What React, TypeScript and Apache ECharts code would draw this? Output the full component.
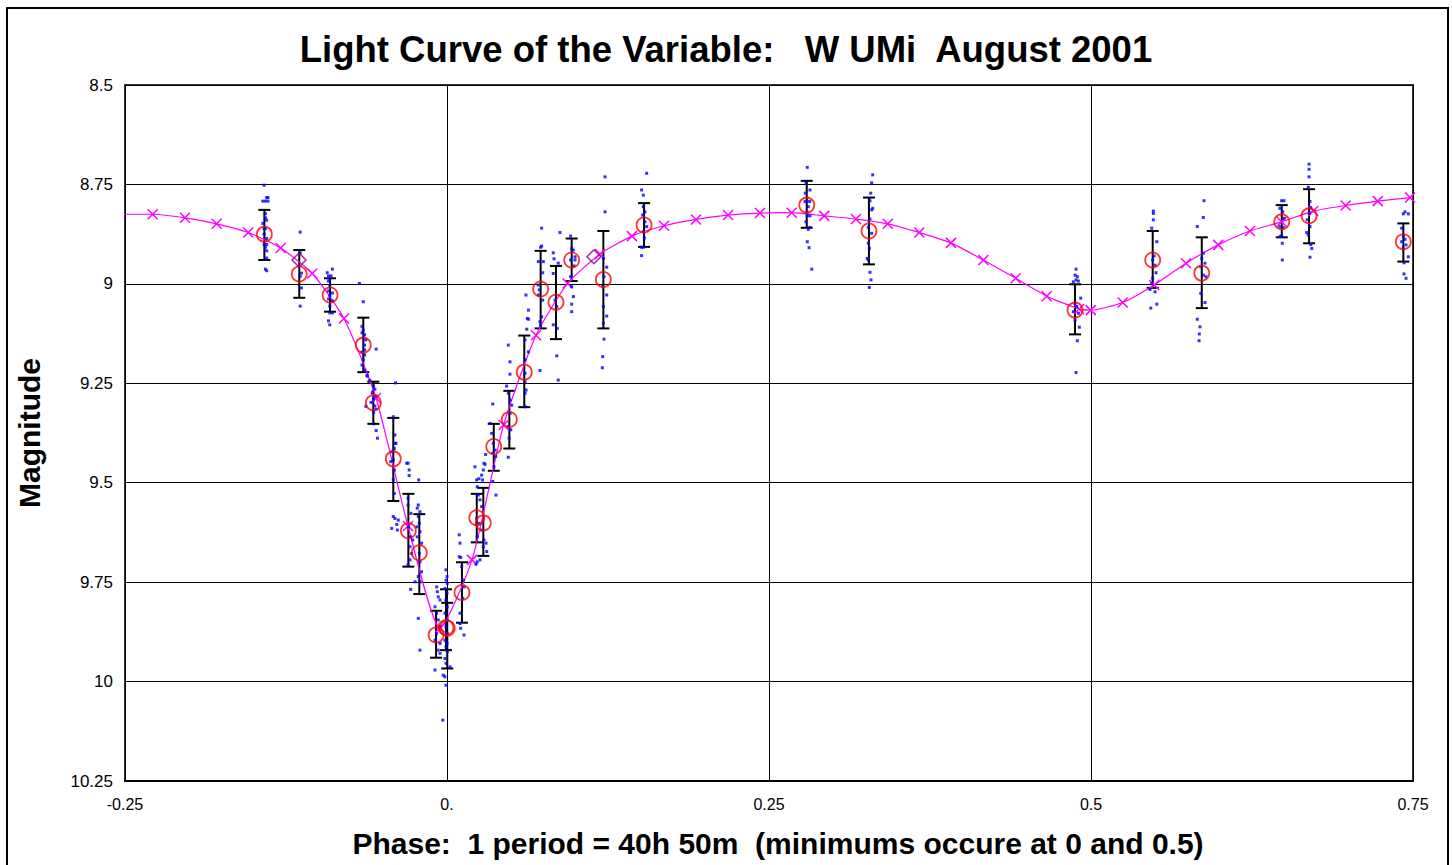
import React, { useEffect, useRef } from 'react';
import * as echarts from 'echarts';

const FONT = '"Liberation Sans", Arial, Helvetica, sans-serif';

const titleText = 'Light Curve of the Variable:   W UMi  August 2001';
const xTitleText = 'Phase:  1 period = 40h 50m  (minimums occure at 0 and 0.5)';
const yTitleText = 'Magnitude';

// model light curve (magenta line with x markers): [phase, magnitude]
const modelCurve: number[][] = [
  [-0.2535, 8.825], [-0.2285, 8.825], [-0.2034, 8.834], [-0.1788, 8.849], [-0.1543, 8.871],
  [-0.1291, 8.91], [-0.1046, 8.974], [-0.08, 9.087], [-0.0551, 9.287], [-0.0303, 9.609],
  [-0.0054, 9.865], [0.0194, 9.694], [0.0439, 9.355], [0.0691, 9.129], [0.0936, 8.999],
  [0.1188, 8.925], [0.1436, 8.88], [0.1685, 8.854], [0.1933, 8.838], [0.2182, 8.827],
  [0.243, 8.822], [0.2676, 8.821], [0.2929, 8.829], [0.3175, 8.837], [0.3422, 8.849],
  [0.3667, 8.871], [0.3913, 8.897], [0.4164, 8.94], [0.4415, 8.986], [0.4656, 9.031],
  [0.4907, 9.063], [0.4998, 9.066], [0.5246, 9.047], [0.5491, 9.003], [0.5738, 8.948],
  [0.5988, 8.902], [0.6234, 8.867], [0.648, 8.844], [0.6726, 8.817], [0.6977, 8.803],
  [0.7226, 8.792], [0.7477, 8.783],
];

// binned means (red circles): [phase, magnitude]
const meanPoints: number[][] = [
  [-0.1418, 8.875], [-0.1147, 8.975], [-0.0908, 9.028], [-0.065, 9.154], [-0.0572, 9.299],
  [-0.0417, 9.44], [-0.03, 9.621], [-0.0215, 9.676], [-0.0085, 9.883], [-0.0008, 9.864],
  [0.0002, 9.866], [0.0116, 9.776], [0.0231, 9.588], [0.0282, 9.601], [0.0363, 9.409],
  [0.0484, 9.341], [0.06, 9.222], [0.0727, 9.013], [0.0846, 9.046], [0.0968, 8.94],
  [0.1214, 8.989], [0.153, 8.852], [0.2793, 8.802], [0.3276, 8.867], [0.4876, 9.066],
  [0.5479, 8.94], [0.586, 8.973], [0.6481, 8.844], [0.6693, 8.829], [0.7425, 8.894],
];

// error bars: [phase, upper (brighter) mag, lower (fainter) mag]
const errorBars: number[][] = [
  [-0.1418, 8.814, 8.94], [-0.1147, 8.915, 9.035], [-0.0908, 8.986, 9.07], [-0.065, 9.085, 9.222],
  [-0.0572, 9.246, 9.352], [-0.0417, 9.337, 9.546], [-0.03, 9.528, 9.711], [-0.0215, 9.579, 9.78],
  [-0.0085, 9.822, 9.94], [-0.0008, 9.768, 9.921], [0.0002, 9.802, 9.967], [0.0116, 9.7, 9.852],
  [0.0231, 9.528, 9.65], [0.0282, 9.513, 9.684], [0.0363, 9.352, 9.47], [0.0484, 9.269, 9.414],
  [0.06, 9.13, 9.31], [0.0727, 8.917, 9.112], [0.0846, 8.955, 9.139], [0.0968, 8.886, 8.993],
  [0.1214, 8.867, 9.112], [0.153, 8.797, 8.907], [0.2793, 8.741, 8.859], [0.3276, 8.783, 8.951],
  [0.4876, 9.001, 9.127], [0.5479, 8.867, 9.01], [0.586, 8.883, 9.061], [0.6481, 8.802, 8.883],
  [0.6693, 8.762, 8.898], [0.7425, 8.848, 8.944],
];

// purple diamonds
const diamondPoints: number[][] = [
  [-0.1149, 8.94], [0.1141, 8.932],
];

// individual observations (blue dots): [phase, magnitude]
const observations: number[][] = [
  [-0.142, 8.752], [-0.14, 8.783], [-0.139, 8.783], [-0.143, 8.792], [-0.141, 8.792], [-0.139, 8.792],
  [-0.141, 8.823], [-0.141, 8.834], [-0.14, 8.84], [-0.143, 8.848], [-0.142, 8.861], [-0.141, 8.861],
  [-0.142, 8.875], [-0.14, 8.886], [-0.142, 8.901], [-0.14, 8.901], [-0.141, 8.908], [-0.14, 8.917],
  [-0.14, 8.935], [-0.141, 8.963], [-0.14, 8.967],
  [-0.114, 8.87], [-0.114, 8.922], [-0.113, 8.973], [-0.114, 8.981], [-0.113, 9.01], [-0.114, 9.056],
  [-0.089, 8.963], [-0.093, 8.972], [-0.092, 8.98], [-0.09, 8.98], [-0.091, 8.986], [-0.092, 8.993],
  [-0.091, 9.005], [-0.092, 9.018], [-0.089, 9.023], [-0.091, 9.03], [-0.092, 9.038], [-0.089, 9.043],
  [-0.091, 9.056], [-0.091, 9.073], [-0.089, 9.073], [-0.092, 9.093], [-0.091, 9.103],
  [-0.068, 8.999], [-0.065, 9.045], [-0.066, 9.107], [-0.065, 9.116], [-0.066, 9.123], [-0.064, 9.128],
  [-0.065, 9.136], [-0.063, 9.141], [-0.064, 9.154], [-0.064, 9.166], [-0.055, 9.164], [-0.066, 9.172],
  [-0.064, 9.179], [-0.065, 9.191], [-0.066, 9.204], [-0.064, 9.217], [-0.062, 9.23],
  [-0.062, 9.232], [-0.06, 9.242], [-0.057, 9.257], [-0.056, 9.265], [-0.058, 9.273], [-0.055, 9.282],
  [-0.057, 9.29], [-0.059, 9.298], [-0.056, 9.307], [-0.063, 9.308], [-0.055, 9.315], [-0.057, 9.323],
  [-0.057, 9.352], [-0.055, 9.369], [-0.054, 9.388], [-0.04, 9.249],
  [-0.0417, 9.334], [-0.0404, 9.38], [-0.0396, 9.401], [-0.0404, 9.401], [-0.0409, 9.414], [-0.0427, 9.422],
  [-0.0417, 9.443], [-0.0437, 9.447], [-0.0409, 9.468], [-0.0417, 9.493], [-0.0409, 9.527], [-0.0417, 9.585],
  [-0.0404, 9.59], [-0.0378, 9.594], [-0.039, 9.605], [-0.0429, 9.615], [-0.0385, 9.619],
  [-0.0313, 9.451], [-0.0302, 9.451], [-0.0294, 9.468], [-0.0294, 9.482], [-0.022, 9.493],
  [-0.0303, 9.539], [-0.0303, 9.556], [-0.028, 9.577], [-0.0298, 9.611], [-0.0282, 9.636], [-0.0266, 9.644],
  [-0.0287, 9.661], [-0.0274, 9.678], [-0.0287, 9.694], [-0.0303, 9.707],
  [-0.0223, 9.556], [-0.0231, 9.564], [-0.021, 9.573], [-0.0223, 9.585], [-0.0215, 9.602], [-0.0233, 9.611],
  [-0.021, 9.623], [-0.0231, 9.636], [-0.0197, 9.652], [-0.0215, 9.678], [-0.021, 9.699], [-0.0197, 9.724],
  [-0.0223, 9.736], [-0.021, 9.749], [-0.0282, 9.768], [-0.0248, 9.749], [-0.0223, 9.841], [-0.021, 9.921],
  [-0.008, 9.762], [-0.0075, 9.774], [-0.0068, 9.787], [-0.0054, 9.795], [-0.0093, 9.812], [-0.008, 9.828],
  [-0.0068, 9.845], [-0.0054, 9.862], [-0.008, 9.879], [-0.0093, 9.896], [-0.0054, 9.904], [-0.0068, 9.921],
  [-0.0054, 9.929], [-0.0093, 9.971],
  [-0.0008, 9.719], [0.0, 9.736], [-0.0008, 9.745], [0.0002, 9.753], [-0.0016, 9.766], [0.0, 9.778],
  [-0.0008, 9.795], [0.0002, 9.812], [-0.0016, 9.828], [0.0, 9.845], [-0.0008, 9.862], [0.0002, 9.879],
  [-0.0016, 9.896], [0.0, 9.904], [-0.0008, 9.912], [0.0002, 9.925], [-0.0016, 9.942], [-0.0008, 9.954],
  [-0.0029, 9.984], [-0.0016, 9.988], [-0.0008, 10.009], [-0.0033, 10.097], [0.0023, 9.963],
  [0.0095, 9.631], [0.0101, 9.652], [0.0095, 9.686], [0.0106, 9.688], [0.0114, 9.711], [0.0127, 9.745],
  [0.0132, 9.762], [0.0122, 9.791], [0.0101, 9.828], [0.0101, 9.854], [0.0132, 9.883], [0.0106, 9.866],
  [0.0217, 9.46], [0.023, 9.493], [0.0235, 9.51], [0.0243, 9.531], [0.0256, 9.543], [0.0269, 9.56],
  [0.023, 9.59], [0.025, 9.602], [0.0269, 9.619], [0.0235, 9.636], [0.0287, 9.644], [0.0303, 9.652],
  [0.0282, 9.661], [0.0308, 9.673], [0.0256, 9.694], [0.0235, 9.699], [0.0225, 9.705], [0.0276, 9.493],
  [0.0269, 9.481], [0.0248, 9.49], [0.0282, 9.468], [0.0295, 9.454], [0.03, 9.429], [0.0287, 9.451],
  [0.0355, 9.302], [0.0347, 9.376], [0.036, 9.401], [0.0373, 9.418], [0.0355, 9.426], [0.0378, 9.434],
  [0.0365, 9.46], [0.0355, 9.497], [0.038, 9.531], [0.0334, 9.351],
  [0.0463, 9.257], [0.0476, 9.275], [0.0489, 9.292], [0.0502, 9.305], [0.0489, 9.326], [0.0476, 9.359],
  [0.0495, 9.367], [0.0482, 9.388], [0.0476, 9.436],
  [0.0476, 9.154], [0.0489, 9.196], [0.0489, 9.227], [0.0606, 9.141], [0.0632, 9.171], [0.0606, 9.191],
  [0.0606, 9.225], [0.0606, 9.246], [0.0614, 9.267], [0.0606, 9.275], [0.0606, 9.309], [0.0619, 9.114],
  [0.0632, 9.089], [0.0632, 9.066],
  [0.0735, 8.86], [0.0727, 8.908], [0.0735, 8.905], [0.0709, 8.944], [0.0748, 8.944], [0.0743, 8.972],
  [0.0709, 9.003], [0.0717, 9.015], [0.0709, 9.028], [0.0743, 9.041], [0.0735, 9.083], [0.0722, 9.095],
  [0.0727, 9.105], [0.0722, 9.218], [0.0613, 9.028], [0.0624, 9.087],
  [0.0825, 8.922], [0.0831, 8.937], [0.0864, 8.948], [0.0825, 8.974], [0.0839, 9.041], [0.0852, 9.057],
  [0.0825, 9.103], [0.0856, 9.112], [0.0852, 9.181], [0.0864, 9.242], [0.0877, 8.871],
  [0.096, 8.88], [0.0968, 8.911], [0.0981, 8.915], [0.0994, 8.932], [0.096, 8.94], [0.0994, 8.94],
  [0.0986, 8.955], [0.096, 8.982], [0.0968, 9.007], [0.0981, 9.032], [0.0968, 9.051], [0.0968, 9.07],
  [0.1227, 8.731], [0.1227, 8.819], [0.1214, 8.936], [0.124, 8.958], [0.1219, 8.982], [0.1209, 9.007],
  [0.124, 9.028], [0.1214, 9.057], [0.124, 9.081], [0.1214, 9.099], [0.1219, 9.139], [0.1209, 9.183],
  [0.1206, 9.211],
  [0.155, 8.722], [0.1511, 8.764], [0.1524, 8.777], [0.1524, 8.806], [0.1537, 8.819], [0.1519, 8.827],
  [0.1537, 8.844], [0.155, 8.856], [0.1524, 8.869], [0.1532, 8.885], [0.1511, 8.908], [0.1524, 8.908],
  [0.1511, 8.929],
  [0.2797, 8.707], [0.2787, 8.746], [0.2818, 8.764], [0.2782, 8.772], [0.2795, 8.792], [0.2816, 8.793],
  [0.278, 8.793], [0.2805, 8.806], [0.2795, 8.819], [0.2818, 8.829], [0.2797, 8.829], [0.2787, 8.844],
  [0.2818, 8.858], [0.2805, 8.863], [0.2797, 8.894], [0.2811, 8.909], [0.2832, 8.963],
  [0.3305, 8.726], [0.3297, 8.746], [0.329, 8.772], [0.3284, 8.791], [0.3305, 8.81], [0.3297, 8.814],
  [0.3284, 8.837], [0.3271, 8.858], [0.3297, 8.873], [0.3271, 8.898], [0.3279, 8.911], [0.3263, 8.936],
  [0.3271, 8.94], [0.3284, 8.971], [0.3292, 8.99], [0.3279, 9.009],
  [0.4884, 8.963], [0.4876, 8.978], [0.4894, 8.982], [0.4884, 8.99], [0.4863, 8.995], [0.4902, 8.993],
  [0.492, 9.036], [0.4876, 9.049], [0.4889, 9.057], [0.4863, 9.07], [0.4902, 9.074], [0.4876, 9.091],
  [0.4909, 9.109], [0.4894, 9.143], [0.4884, 9.223],
  [0.5484, 8.817], [0.5484, 8.823], [0.5484, 8.839], [0.5471, 8.86], [0.5511, 8.894], [0.549, 8.93],
  [0.5479, 8.94], [0.5497, 8.953], [0.5505, 8.972], [0.5479, 8.986], [0.5471, 8.999], [0.5458, 9.014],
  [0.5497, 9.02], [0.5511, 9.051], [0.5464, 9.061],
  [0.5877, 8.791], [0.5872, 8.833], [0.5825, 8.856], [0.5872, 8.923], [0.586, 8.936], [0.5885, 8.948],
  [0.5852, 8.957], [0.5872, 8.978], [0.5893, 8.982], [0.5852, 9.024], [0.5885, 9.047], [0.5825, 9.089],
  [0.5846, 9.108], [0.5841, 9.126], [0.5839, 9.143],
  [0.648, 8.791], [0.6498, 8.791], [0.6467, 8.81], [0.6488, 8.819], [0.6498, 8.835], [0.6467, 8.856],
  [0.6493, 8.858], [0.648, 8.88], [0.6467, 8.881], [0.6485, 8.898], [0.6485, 8.94],
  [0.6693, 8.699], [0.6693, 8.712], [0.6693, 8.731], [0.6687, 8.757], [0.67, 8.793], [0.6706, 8.808],
  [0.6695, 8.823], [0.6679, 8.839], [0.67, 8.856], [0.6675, 8.871], [0.6687, 8.877], [0.6706, 8.901],
  [0.6714, 8.911], [0.67, 8.933],
  [0.7438, 8.819], [0.7464, 8.824], [0.7425, 8.824], [0.7412, 8.86], [0.7425, 8.88], [0.7438, 8.888],
  [0.7412, 8.894], [0.7446, 8.902], [0.7425, 8.911], [0.7464, 8.932], [0.743, 8.947], [0.743, 8.975],
  [0.7446, 8.986],
];

export default function App() {
  const ref = useRef<HTMLDivElement>(null);

  useEffect(() => {
    document.body.style.margin = '0';
    const chart = echarts.init(ref.current as HTMLDivElement, null, { renderer: 'svg' });

    const errorRender = (params: any, api: any) => {
      const x = api.value(0);
      const p1 = api.coord([x, api.value(1)]);
      const p2 = api.coord([x, api.value(2)]);
      const hw = 6;
      const style = { stroke: '#000000', lineWidth: 2 };
      return {
        type: 'group',
        children: [
          { type: 'line', shape: { x1: p1[0], y1: p1[1], x2: p2[0], y2: p2[1] }, style },
          { type: 'line', shape: { x1: p1[0] - hw, y1: p1[1], x2: p1[0] + hw, y2: p1[1] }, style },
          { type: 'line', shape: { x1: p2[0] - hw, y1: p2[1], x2: p2[0] + hw, y2: p2[1] }, style },
        ],
      };
    };

    chart.setOption({
      animation: false,
      backgroundColor: '#ffffff',
      title: {
        text: titleText,
        left: 'center',
        top: 26,
        textStyle: { fontSize: 36.5, fontWeight: 'bold', fontFamily: FONT, color: '#000000' },
      },
      graphic: [
        {
          type: 'rect',
          shape: { x: 7, y: 8, width: 1441, height: 900 },
          style: { fill: 'none', stroke: '#000000', lineWidth: 2 },
          silent: true,
          z: 0,
        },
        {
          type: 'text',
          x: 778,
          y: 843,
          style: {
            text: xTitleText,
            fontSize: 30,
            fontWeight: 'bold',
            fontFamily: FONT,
            fill: '#000000',
            textAlign: 'center',
            textVerticalAlign: 'middle',
          },
        },
      ],
      grid: {
        left: 125,
        top: 85,
        width: 1288,
        height: 696,
        show: true,
        borderColor: '#333333',
        borderWidth: 2,
        backgroundColor: '#ffffff',
      },
      xAxis: {
        type: 'value',
        min: -0.25,
        max: 0.75,
        interval: 0.25,
        axisLine: { show: true, onZero: false, lineStyle: { color: '#000000', width: 2 } },
        axisTick: { show: false },
        splitLine: { show: true, lineStyle: { color: '#000000', width: 1 } },
        axisLabel: {
          fontSize: 16,
          fontFamily: FONT,
          color: '#000000',
          margin: 15,
          formatter: (v: number) => (Math.abs(v) < 1e-9 ? '0.' : String(v)),
        },
      },
      yAxis: {
        type: 'value',
        inverse: true,
        min: 8.5,
        max: 10.25,
        interval: 0.25,
        name: yTitleText,
        nameLocation: 'middle',
        nameRotate: 90,
        nameGap: 81,
        nameTextStyle: { fontSize: 30, fontWeight: 'bold', fontFamily: FONT, color: '#000000' },
        axisLine: { show: true, lineStyle: { color: '#000000', width: 1 } },
        axisTick: { show: true, length: 4, lineStyle: { color: '#000000' } },
        splitLine: { show: true, lineStyle: { color: '#000000', width: 1 } },
        axisLabel: { fontSize: 17, fontFamily: FONT, color: '#000000', margin: 12 },
      },
      series: [
        {
          type: 'custom',
          name: 'errors',
          renderItem: errorRender,
          data: errorBars,
          encode: { x: 0, y: [1, 2] },
          z: 2,
          clip: true,
        },
        {
          type: 'line',
          name: 'model',
          data: modelCurve,
          smooth: 0.2,
          clip: true,
          symbol: 'path://M0 0L10 10M10 0L0 10',
          symbolSize: 10,
          showSymbol: true,
          lineStyle: { color: '#ff00ff', width: 1.2 },
          itemStyle: { color: '#ff00ff', borderColor: '#ff00ff', borderWidth: 1.5 },
          z: 3,
        },
        {
          type: 'scatter',
          name: 'observations',
          data: observations,
          symbol: 'rect',
          symbolSize: 3,
          itemStyle: { color: '#0000ff' },
          z: 4,
        },
        {
          type: 'scatter',
          name: 'means',
          data: meanPoints,
          symbol: 'circle',
          symbolSize: 15,
          itemStyle: { color: 'rgba(0,0,0,0)', borderColor: '#ff0000', borderWidth: 1.8 },
          z: 5,
        },
        {
          type: 'scatter',
          name: 'diamonds',
          data: diamondPoints,
          symbol: 'diamond',
          symbolSize: 14,
          itemStyle: { color: 'rgba(0,0,0,0)', borderColor: '#800080', borderWidth: 1.5 },
          z: 5,
        },
      ],
    });

    return () => chart.dispose();
  }, []);

  return <div ref={ref} style={{ width: 1452, height: 865 }} />;
}
